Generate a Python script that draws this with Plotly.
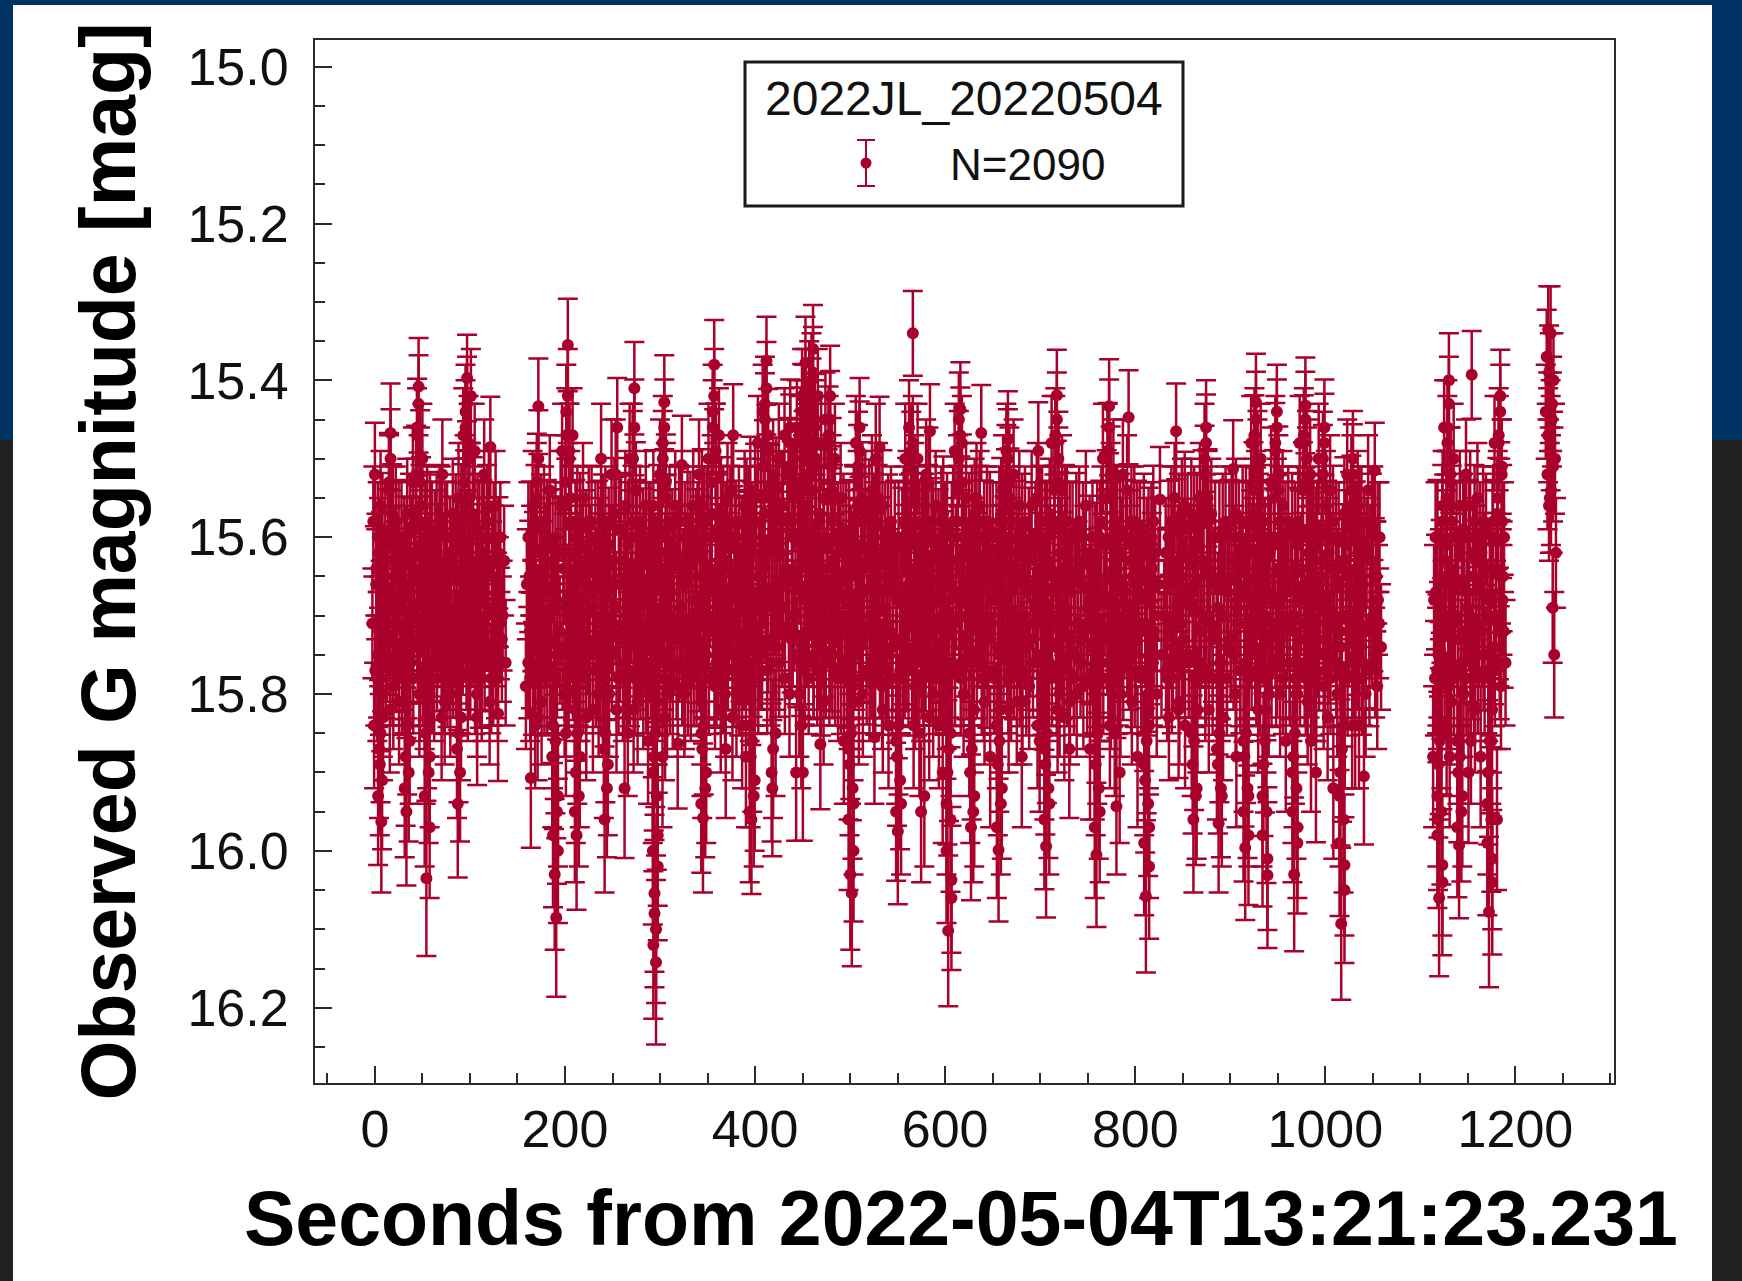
import plotly.graph_objects as go

COLUMN_TIMES = [
 0,6,11,16.5,22,28,34,40,46,50,55,60,65,71,76,82,88,93,97,101,105,110,115,121.5,127,132,136,
 161.5,166,172,178,184,190,197,203,208,213,219,225,232,238,242.5,249,255,263.5,268,273,279,285,290,295,300,304.5,310,316,323,329,335,341,346,351,357,362,366.5,371,377,383,389,393,397,403,408,412,419,425,431,437,444,449.5,453,457,461,466,469.5,474,479,484,490,496,
 501,506,510,516,523,527,531,537,543,551,558,562,566,571,575.5,580,584,590,596,600,604,610,616,622,628,633,638,644,650,657,661,666,672,678,684,691,698,702,707,712,717.5,723,728,734,741,748,755,760,766,772.5,777,781,787,793,799,805,812,817,821,826,832,838,843,849,855,862,868,874.5,880,888.5,895,903,909,916.5,922,927,932,936.5,943,949,955,961,968,973,979,984,987.5,993,999,1005,1011,1017.5,1023,1029,1034,1038,1045,1052,1057,
 1116,1120.5,1125,1130,1135,1141.5,1148,1154,1160,1166,1173,1178,1184,1188,
 1234.5,1237,1240,
]

COLUMN_MAGS = [
 [15.52,15.58,15.64,15.71,15.78,15.84],[15.56,15.62,15.69,15.75,15.83,15.89,15.963],[15.60,15.66,15.73,15.80],[15.467,15.54,15.61,15.68,15.76,15.82],[15.58,15.65,15.71,15.79],[15.60,15.67,15.74,15.81],[15.57,15.63,15.70,15.77,15.86,15.95],[15.53,15.62,15.69,15.76],[15.408,15.47,15.53,15.59,15.66,15.73,15.80],[15.50,15.61,15.70,15.78],
 [15.58,15.64,15.71,15.79,15.88,16.035],[15.60,15.66,15.73,15.80],[15.59,15.65,15.72,15.78],[15.52,15.58,15.64,15.70,15.77,15.83],[15.60,15.67,15.74,15.81],[15.57,15.65,15.72,15.80],[15.55,15.62,15.68,15.75,15.83,15.94],[15.47,15.60,15.69,15.77],[15.397,15.44,15.50,15.57,15.64,15.71,15.78],[15.42,15.55,15.66,15.75],
 [15.49,15.58,15.65,15.72,15.83],[15.60,15.67,15.74,15.80],[15.52,15.62,15.70,15.78],[15.485,15.56,15.63,15.70,15.76,15.81],[15.56,15.63,15.69,15.76,15.825],[15.60,15.67,15.73,15.78],[15.63,15.70,15.76],
 [15.60,15.66,15.72,15.79,15.907],[15.56,15.63,15.70,15.78,15.84],[15.433,15.55,15.62,15.68,15.75,15.83],[15.58,15.65,15.72,15.81],[15.54,15.61,15.69,15.77,15.88],[15.60,15.67,15.75,15.84,15.93,16.03,16.085],[15.49,15.56,15.64,15.72,15.80],[15.355,15.44,15.50,15.56,15.62,15.70,15.77,15.85],[15.47,15.58,15.66,15.74,15.82],
 [15.58,15.65,15.72,15.80,15.88,15.98],[15.55,15.63,15.70,15.78],[15.58,15.66,15.74,15.83],[15.60,15.67,15.75,15.82],[15.50,15.62,15.70,15.80],[15.58,15.65,15.72,15.80,15.89,15.96],[15.52,15.63,15.71,15.80],[15.46,15.52,15.59,15.66,15.73,15.82],[15.56,15.63,15.70,15.78,15.85,15.92],[15.50,15.61,15.69,15.77],
 [15.41,15.50,15.60,15.67,15.74,15.82],[15.58,15.66,15.73,15.81],[15.56,15.63,15.71,15.79],[15.60,15.68,15.77,15.86],[15.64,15.72,15.81,15.90,15.98,16.054,16.142],[15.52,15.60,15.69,15.78,15.88],[15.428,15.48,15.55,15.62,15.69,15.76,15.83],[15.58,15.65,15.73,15.80],[15.56,15.64,15.71,15.79,15.863],[15.508,15.58,15.66,15.73,15.80],
 [15.58,15.64,15.72,15.79],[15.56,15.63,15.70,15.78],[15.52,15.60,15.68,15.76,15.85],[15.58,15.65,15.73,15.81,15.90,15.958],[15.50,15.58,15.67,15.75],[15.38,15.44,15.50,15.57,15.64,15.71,15.79],[15.47,15.59,15.68,15.76],[15.58,15.66,15.74,15.82,15.87],[15.55,15.63,15.71,15.80],[15.47,15.54,15.61,15.68,15.75,15.83],
 [15.58,15.65,15.73,15.80],[15.56,15.63,15.72,15.84],[15.58,15.68,15.77,15.88],[15.60,15.68,15.76,15.84,15.91,15.96],[15.48,15.58,15.67,15.76],[15.44,15.55,15.64,15.74],[15.375,15.43,15.49,15.55,15.62,15.69,15.77],[15.52,15.60,15.68,15.76,15.85,15.92],[15.50,15.58,15.66,15.74],[15.47,15.56,15.64,15.72],
 [15.46,15.52,15.58,15.65,15.72,15.80],[15.46,15.53,15.60,15.70,15.80,15.90],[15.42,15.48,15.56,15.64,15.74,15.84,15.90],[15.378,15.44,15.50,15.57,15.66,15.76],[15.41,15.52,15.62,15.72],[15.36,15.40,15.46,15.52,15.59,15.67,15.75],[15.42,15.50,15.58,15.68],[15.48,15.57,15.66,15.74,15.81,15.864],[15.45,15.55,15.64,15.72],[15.42,15.48,15.54,15.61,15.68,15.76],[15.50,15.60,15.67,15.75],[15.55,15.62,15.70,15.78],[15.60,15.68,15.76,15.86],
 [15.63,15.71,15.79,15.87,15.94,16.03,16.054],[15.48,15.58,15.68,15.78],[15.46,15.51,15.58,15.65,15.73,15.81],[15.56,15.64,15.72,15.80],[15.54,15.62,15.70,15.78,15.855],[15.50,15.60,15.68,15.77],[15.485,15.55,15.63,15.71,15.79],[15.60,15.67,15.75,15.82],[15.58,15.66,15.74,15.84],[15.60,15.68,15.77,15.86,15.94,15.975],
 [15.50,15.58,15.67,15.76],[15.46,15.56,15.65,15.74],[15.34,15.49,15.55,15.61,15.68,15.76,15.84],[15.50,15.60,15.69,15.79],[15.60,15.68,15.76,15.85,15.93,15.95],[15.52,15.61,15.70,15.78],[15.465,15.53,15.60,15.67,15.75,15.83],[15.56,15.63,15.71,15.80],[15.58,15.66,15.74,15.84],[15.60,15.70,15.79,15.90],
 [15.68,15.76,15.85,15.94,16.037,16.102],[15.49,15.58,15.67,15.77],[15.437,15.45,15.48,15.54,15.60,15.68,15.76],[15.55,15.62,15.70,15.80],[15.58,15.67,15.76,15.85,15.93,15.97],[15.55,15.63,15.72,15.82],[15.467,15.56,15.63,15.70,15.78],[15.58,15.65,15.73,15.81],[15.60,15.68,15.77,15.88],[15.58,15.66,15.75,15.84,15.92,15.999],
 [15.54,15.63,15.72,15.82],[15.475,15.49,15.53,15.60,15.67,15.75,15.82],[15.52,15.62,15.70,15.78],[15.56,15.64,15.73,15.81,15.88],[15.58,15.66,15.74,15.81],[15.56,15.63,15.71,15.79],[15.49,15.55,15.62,15.69,15.76,15.84],[15.58,15.66,15.75,15.86],[15.60,15.69,15.78,15.87,15.94,15.994],[15.48,15.58,15.67,15.76],
 [15.419,15.47,15.53,15.59,15.66,15.74,15.82],[15.54,15.62,15.71,15.80],[15.58,15.66,15.75,15.83,15.87],[15.60,15.67,15.75,15.81],[15.58,15.65,15.73,15.80],[15.56,15.63,15.71,15.79],[15.60,15.68,15.77,15.87],[15.60,15.69,15.78,15.87,15.95,16.005],[15.50,15.58,15.68,15.78],[15.433,15.49,15.55,15.61,15.68,15.76,15.84],
 [15.52,15.61,15.70,15.79],[15.58,15.67,15.76,15.85,15.90,15.943],[15.52,15.62,15.71,15.80],[15.447,15.54,15.61,15.69,15.77],[15.58,15.65,15.73,15.81],[15.60,15.68,15.77,15.88],[15.62,15.71,15.80,15.89,15.97,16.058],[15.60,15.68,15.76,15.84],[15.62,15.72,15.80],[15.552,15.66,15.75],
 [15.62,15.70,15.78],[15.58,15.66,15.74,15.83],[15.465,15.55,15.63,15.71,15.82],[15.57,15.65,15.73,15.81],[15.59,15.67,15.75,15.84],[15.58,15.67,15.76,15.85,15.92,15.96],[15.55,15.63,15.72,15.82],[15.46,15.50,15.56,15.63,15.70,15.78],[15.57,15.65,15.73,15.82],[15.60,15.69,15.78,15.87,15.93,15.965],
 [15.58,15.66,15.74,15.83],[15.513,15.58,15.65,15.73,15.80],[15.60,15.68,15.77,15.88],[15.58,15.67,15.76,15.86,15.93,15.996],[15.48,15.58,15.68,15.78],[15.428,15.47,15.52,15.58,15.66,15.74],[15.50,15.60,15.70,15.82],[15.62,15.72,15.82,15.93,16.031],[15.53,15.62,15.71,15.80],[15.44,15.48,15.54,15.60,15.68,15.76],
 [15.56,15.64,15.72,15.80],[15.58,15.67,15.76,15.86],[15.60,15.70,15.80,15.90,15.97,16.03],[15.48,15.58,15.68,15.80],[15.432,15.47,15.53,15.60,15.68,15.76],[15.52,15.62,15.71,15.81],[15.60,15.69,15.78,15.86,15.90],[15.50,15.60,15.68,15.78],[15.46,15.50,15.56,15.63,15.71,15.79],[15.54,15.62,15.71,15.83],
 [15.60,15.70,15.80,15.92],[15.64,15.74,15.84,15.93,16.018,16.093],[15.52,15.61,15.72,15.84],[15.50,15.54,15.60,15.67,15.75,15.84],[15.56,15.64,15.74,15.84],[15.58,15.67,15.76,15.84,15.905],[15.54,15.62,15.71,15.80],[15.515,15.58,15.65,15.72,15.79],[15.60,15.68,15.74],
 [15.60,15.68,15.77,15.88,15.96],[15.66,15.75,15.84,15.93,16.018,16.06],[15.46,15.56,15.66,15.75,15.85],[15.40,15.46,15.53,15.61,15.70,15.79,15.88],[15.50,15.60,15.70,15.81],[15.56,15.66,15.76,15.86,15.93,15.993],[15.52,15.60,15.69,15.80,15.90],[15.393,15.56,15.62,15.70,15.78,15.86],[15.55,15.63,15.72,15.82],[15.58,15.67,15.77,15.88],
 [15.68,15.78,15.86,15.94,16.01,16.078],[15.48,15.58,15.70,15.82,15.96],[15.42,15.47,15.52,15.58,15.65,15.72,15.79],[15.60,15.68,15.76],
 [15.335,15.37,15.40,15.44,15.48,15.52,15.56],[15.34,15.39,15.43,15.47,15.51,15.55],[15.40,15.45,15.50,15.54,15.62,15.69,15.75],
]

COLUMN_ERRS = [
 [.066,.07,.07,.07,.08,.08],[.07,.07,.07,.08,.08,.09,.09],[.07,.07,.08,.08],[.063,.07,.07,.07,.08,.08],[.07,.07,.07,.08],[.07,.07,.08,.08],[.07,.07,.07,.08,.08,.094],[.07,.07,.07,.08],[.062,.06,.07,.07,.07,.08,.08],[.07,.07,.07,.08],
 [.07,.07,.07,.08,.09,.099],[.07,.07,.08,.08],[.07,.07,.07,.08],[.07,.07,.07,.07,.08,.08],[.07,.07,.08,.08],[.07,.07,.07,.08],[.07,.07,.07,.08,.08,.094],[.06,.07,.07,.08],[.055,.06,.07,.07,.07,.07,.08],[.06,.07,.07,.08],
 [.06,.07,.07,.07,.086],[.07,.07,.08,.08],[.07,.07,.07,.08],[.064,.07,.07,.07,.08,.08],[.07,.07,.07,.08,.086],[.07,.07,.08,.08],[.07,.07,.08],
 [.07,.07,.07,.08,.089],[.07,.07,.07,.08,.08],[.061,.07,.07,.07,.08,.08],[.07,.07,.07,.08],[.07,.07,.07,.08,.09],[.07,.07,.08,.08,.09,.096,.101],[.06,.07,.07,.07,.08],[.059,.06,.07,.07,.07,.07,.08,.08],[.06,.07,.07,.08,.08],
 [.07,.07,.07,.08,.09,.095],[.07,.07,.07,.08],[.07,.07,.08,.08],[.07,.07,.08,.08],[.07,.07,.07,.08],[.07,.07,.07,.08,.09,.093],[.07,.07,.07,.08],[.063,.07,.07,.07,.08,.08],[.07,.07,.07,.08,.08,.089],[.07,.07,.07,.08],
 [.059,.07,.07,.07,.08,.08],[.07,.07,.08,.08],[.07,.07,.07,.08],[.07,.07,.08,.08],[.07,.08,.08,.09,.09,.10,.105],[.07,.07,.07,.08,.09],[.06,.06,.07,.07,.07,.08,.08],[.07,.07,.08,.08],[.07,.07,.07,.08,.083],[.063,.07,.07,.08,.08],
 [.07,.07,.07,.08],[.07,.07,.07,.08],[.07,.07,.07,.08,.08],[.07,.07,.08,.08,.09,.095],[.07,.07,.07,.08],[.057,.06,.07,.07,.07,.07,.08],[.06,.07,.07,.08],[.07,.07,.08,.08,.088],[.07,.07,.07,.08],[.065,.07,.07,.07,.08,.08],
 [.07,.07,.08,.08],[.07,.07,.07,.08],[.07,.07,.08,.09],[.07,.07,.08,.08,.09,.095],[.06,.07,.07,.08],[.06,.07,.07,.08],[.056,.06,.06,.07,.07,.07,.08],[.07,.07,.07,.08,.08,.087],[.07,.07,.07,.08],[.06,.07,.07,.07],
 [.061,.07,.07,.07,.07,.08],[.06,.07,.07,.07,.08,.087],[.06,.06,.07,.07,.08,.08,.087],[.059,.06,.07,.07,.07,.08],[.06,.07,.07,.07],[.056,.06,.06,.07,.07,.07,.08],[.06,.07,.07,.07],[.06,.07,.07,.08,.08,.083],[.06,.07,.07,.07],[.064,.06,.07,.07,.07,.08],[.07,.07,.07,.08],[.07,.07,.07,.08],[.07,.07,.08,.08],
 [.07,.07,.08,.09,.09,.096,.093],[.06,.07,.07,.08],[.063,.07,.07,.07,.08,.08],[.07,.07,.07,.08],[.07,.07,.07,.08,.085],[.07,.07,.07,.08],[.064,.07,.07,.07,.08],[.07,.07,.08,.08],[.07,.07,.08,.08],[.07,.07,.08,.08,.09,.093],
 [.07,.07,.07,.08],[.06,.07,.07,.08],[.054,.06,.07,.07,.07,.08,.08],[.07,.07,.07,.08],[.07,.07,.08,.08,.09,.09],[.07,.07,.07,.08],[.06,.07,.07,.07,.08,.08],[.07,.07,.07,.08],[.07,.07,.08,.08],[.07,.07,.08,.09],
 [.07,.08,.08,.09,.093,.096],[.06,.07,.07,.08],[.06,.06,.06,.07,.07,.07,.08],[.07,.07,.07,.08],[.07,.07,.08,.08,.09,.093],[.07,.07,.07,.08],[.061,.07,.07,.07,.08],[.07,.07,.08,.08],[.07,.07,.08,.09],[.07,.07,.08,.08,.09,.091],
 [.07,.07,.07,.08],[.061,.06,.07,.07,.07,.08,.08],[.07,.07,.07,.08],[.07,.07,.08,.08,.09],[.07,.07,.08,.08],[.07,.07,.07,.08],[.062,.07,.07,.07,.08,.08],[.07,.07,.08,.09],[.07,.07,.08,.09,.09,.091],[.06,.07,.07,.08],
 [.058,.06,.07,.07,.07,.08,.08],[.07,.07,.07,.08],[.07,.07,.08,.08,.088],[.07,.07,.08,.08],[.07,.07,.08,.08],[.07,.07,.07,.08],[.07,.07,.08,.09],[.07,.07,.08,.09,.09,.092],[.07,.07,.07,.08],[.06,.06,.07,.07,.07,.08,.08],
 [.07,.07,.07,.08],[.07,.07,.08,.08,.09,.087],[.07,.07,.07,.08],[.06,.07,.07,.07,.08],[.07,.07,.08,.08],[.07,.07,.08,.09],[.07,.07,.08,.09,.09,.097],[.07,.07,.08,.08],[.07,.07,.08],[.067,.07,.08],
 [.07,.07,.08],[.07,.07,.08,.08],[.061,.07,.07,.07,.087],[.07,.07,.08,.08],[.07,.07,.08,.08],[.07,.07,.08,.08,.09,.093],[.07,.07,.07,.08],[.06,.07,.07,.07,.07,.08],[.07,.07,.08,.08],[.07,.07,.08,.09,.09,.088],
 [.07,.07,.08,.08],[.062,.07,.07,.08,.08],[.07,.07,.08,.09],[.07,.07,.08,.09,.09,.092],[.06,.07,.07,.08],[.062,.06,.07,.07,.07,.08],[.07,.07,.07,.08],[.07,.07,.08,.09,.093],[.07,.07,.07,.08],[.06,.06,.07,.07,.07,.08],
 [.07,.07,.07,.08],[.07,.07,.08,.09],[.07,.07,.08,.09,.09,.098],[.06,.07,.07,.08],[.061,.06,.07,.07,.07,.08],[.07,.07,.07,.08],[.07,.07,.08,.09,.089],[.07,.07,.07,.08],[.061,.06,.07,.07,.07,.08],[.07,.07,.07,.08],
 [.07,.07,.08,.09],[.07,.08,.08,.09,.09,.097],[.07,.07,.07,.08],[.061,.07,.07,.07,.08,.08],[.07,.07,.08,.08],[.07,.07,.08,.08,.087],[.07,.07,.07,.08],[.061,.07,.07,.07,.08],[.07,.07,.08],
 [.07,.07,.08,.09,.09],[.07,.08,.08,.09,.09,.10],[.06,.07,.07,.08,.08],[.06,.06,.07,.07,.07,.08,.09],[.07,.07,.07,.08],[.07,.07,.08,.08,.09,.093],[.07,.07,.07,.08,.09],[.056,.07,.07,.07,.08,.08],[.07,.07,.07,.08],[.07,.07,.08,.09],
 [.07,.08,.08,.09,.09,.096],[.06,.07,.07,.08,.09],[.059,.06,.07,.07,.07,.07,.08],[.07,.07,.08],
 [.055,.06,.06,.06,.06,.07,.07],[.06,.06,.06,.06,.07,.07],[.06,.06,.07,.07,.07,.07,.08],
]

# Spread of the exposures inside one column, seconds
EXPOSURE_OFFSETS = [0, -1.6, 1.6, -2.6, 2.6, -0.8, 0.8, -2.0, 2.0]

# Points of the dense core between the columns above
CORE_TIMES = [
 3,8,14,19,25,31,37,43,48,53,58,63,68,74,79,85,91,95,99,103,108,113,118,125,130,
 164,169,175,181,187,193,200,206,211,216,222,228,235,240,246,252,259,266,271,276,282,288,293,298,302,307,313,320,326,332,338,344,349,354,360,364,369,374,380,386,391,395,400,406,410,416,422,428,434,441,447,451,455,459,464,468,472,477,482,487,493,499,
 504,508,513,520,525,529,534,540,547,555,560,564,569,573,578,582,587,593,598,602,607,613,619,625,631,636,641,647,654,659,664,669,675,681,688,695,700,705,710,715,720,726,731,738,745,752,758,763,769,775,779,784,790,796,802,809,814,819,
 835,841,846,852,859,865,871,877,884,892,899,906,913,919,925,930,934,940,946,952,958,965,971,976,982,986,990,996,1002,1008,1014,1020,1026,1032,1036,1041,1049,1055,
 1118,1123,1128,1133,1138,1145,1151,1157,1163,1169,1176,1181,1186,
]
CORE_MAGS = [
 [15.60,15.66,15.72,15.77],[15.59,15.64,15.70,15.78],[15.61,15.68,15.73,15.76],[15.58,15.63,15.71,15.77],[15.60,15.65,15.69,15.75],[15.62,15.68,15.72,15.78],[15.59,15.66,15.70,15.76],[15.57,15.64,15.71,15.78],[15.58,15.62,15.68,15.74],[15.60,15.65,15.72,15.77],[15.59,15.66,15.73,15.76],[15.61,15.67,15.70,15.78],[15.58,15.63,15.69,15.75],
 [15.60,15.66,15.72,15.78],[15.62,15.69,15.74,15.77],[15.59,15.64,15.70,15.76],[15.58,15.65,15.71,15.78],[15.56,15.62,15.68,15.73],[15.55,15.61,15.67,15.75],[15.57,15.63,15.70,15.76],[15.59,15.66,15.72,15.78],[15.60,15.68,15.71,15.77],[15.58,15.64,15.69,15.75],[15.60,15.65,15.72,15.78],[15.62,15.67,15.71,15.76],
 [15.60,15.65,15.70,15.76],[15.58,15.64,15.72,15.78],[15.59,15.66,15.71,15.76],[15.60,15.63,15.70,15.78],[15.61,15.67,15.73,15.77],[15.62,15.69,15.74,15.78],[15.56,15.62,15.68,15.75],[15.58,15.64,15.71,15.78],[15.60,15.66,15.72,15.76],[15.59,15.65,15.70,15.77],[15.61,15.68,15.73,15.78],[15.58,15.63,15.69,15.75],[15.60,15.66,15.71,15.77],[15.59,15.64,15.72,15.78],[15.61,15.67,15.70,15.76],[15.57,15.63,15.69,15.75],
 [15.59,15.66,15.72,15.78],[15.60,15.65,15.71,15.76],[15.58,15.64,15.70,15.77],[15.60,15.67,15.73,15.78],[15.61,15.66,15.72,15.76],[15.60,15.68,15.74,15.78],[15.56,15.63,15.70,15.76],[15.58,15.65,15.71,15.77],[15.60,15.66,15.72,15.78],[15.59,15.64,15.70,15.75],[15.61,15.67,15.73,15.78],[15.58,15.63,15.69,15.76],[15.60,15.66,15.71,15.77],[15.59,15.65,15.72,15.78],[15.61,15.68,15.74,15.77],[15.56,15.62,15.69,15.75],[15.58,15.64,15.70,15.76],[15.60,15.66,15.72,15.78],[15.59,15.65,15.71,15.77],[15.57,15.63,15.70,15.76],
 [15.60,15.67,15.73,15.78],[15.58,15.64,15.70,15.75],[15.60,15.66,15.72,15.77],[15.62,15.69,15.74,15.78],[15.57,15.62,15.68,15.75],[15.54,15.61,15.67,15.74],[15.55,15.62,15.69,15.76],[15.58,15.65,15.71,15.78],[15.57,15.63,15.68,15.75],[15.55,15.61,15.67,15.73],[15.54,15.60,15.66,15.74],[15.56,15.62,15.69,15.76],[15.58,15.65,15.72,15.78],[15.55,15.60,15.66,15.73],[15.53,15.60,15.67,15.75],[15.54,15.61,15.68,15.76],[15.56,15.63,15.70,15.77],
 [15.59,15.66,15.72,15.78],[15.60,15.65,15.71,15.76],[15.58,15.64,15.70,15.77],[15.60,15.67,15.73,15.78],[15.61,15.66,15.72,15.76],[15.58,15.63,15.69,15.75],[15.60,15.66,15.71,15.77],[15.59,15.65,15.72,15.78],[15.60,15.68,15.74,15.77],[15.58,15.64,15.70,15.76],[15.56,15.62,15.69,15.75],[15.55,15.61,15.67,15.74],[15.57,15.63,15.70,15.77],[15.59,15.66,15.72,15.76],[15.58,15.64,15.71,15.78],[15.56,15.62,15.69,15.76],[15.59,15.65,15.72,15.77],[15.60,15.67,15.73,15.78],[15.61,15.68,15.74,15.78],[15.57,15.63,15.70,15.76],
 [15.59,15.66,15.71,15.77],[15.58,15.64,15.70,15.75],[15.60,15.67,15.73,15.78],[15.59,15.65,15.72,15.76],[15.58,15.63,15.69,15.75],[15.60,15.66,15.71,15.77],[15.61,15.68,15.74,15.78],[15.57,15.64,15.70,15.76],[15.59,15.65,15.72,15.78],[15.60,15.66,15.71,15.76],[15.58,15.63,15.70,15.77],[15.60,15.67,15.73,15.78],[15.59,15.65,15.71,15.76],[15.57,15.62,15.69,15.75],[15.58,15.64,15.70,15.76],[15.60,15.66,15.72,15.78],[15.59,15.65,15.71,15.77],[15.60,15.68,15.74,15.78],[15.57,15.63,15.69,15.75],[15.56,15.62,15.68,15.74],
 [15.58,15.64,15.71,15.78],[15.60,15.66,15.72,15.76],[15.59,15.65,15.70,15.77],[15.61,15.67,15.73,15.78],[15.60,15.66,15.71,15.76],[15.58,15.64,15.70,15.75],[15.60,15.68,15.74,15.78],[15.57,15.63,15.70,15.76],[15.58,15.65,15.71,15.77],[15.59,15.66,15.72,15.78],[15.58,15.64,15.70,15.76],[15.60,15.67,15.73,15.77],[15.59,15.65,15.71,15.78],[15.60,15.66,15.72,15.76],[15.62,15.69,15.74,15.78],[15.63,15.70,15.75,15.78],[15.60,15.66,15.72,15.77],[15.61,15.68,15.73,15.78],
 [15.60,15.65,15.71,15.76],[15.58,15.64,15.70,15.77],[15.59,15.66,15.72,15.78],[15.60,15.67,15.73,15.76],[15.58,15.63,15.69,15.75],[15.60,15.66,15.71,15.77],[15.59,15.65,15.72,15.78],[15.61,15.68,15.74,15.78],[15.58,15.64,15.70,15.76],[15.60,15.66,15.72,15.77],[15.58,15.63,15.70,15.78],[15.59,15.65,15.71,15.76],[15.56,15.62,15.68,15.75],[15.57,15.63,15.69,15.76],[15.59,15.66,15.72,15.78],[15.56,15.63,15.70,15.76],[15.58,15.64,15.71,15.77],[15.60,15.66,15.72,15.78],[15.59,15.65,15.70,15.76],[15.60,15.67,15.73,15.78],[15.57,15.63,15.69,15.75],[15.58,15.64,15.71,15.77],[15.60,15.66,15.72,15.76],[15.57,15.62,15.68,15.75],[15.59,15.65,15.71,15.77],[15.58,15.63,15.70,15.78],[15.60,15.67,15.73,15.78],[15.61,15.68,15.72,15.77],[15.58,15.64,15.70,15.76],[15.60,15.66,15.71,15.78],[15.59,15.65,15.72,15.76],[15.61,15.67,15.73,15.78],
 [15.59,15.64,15.71,15.77],[15.60,15.66,15.70,15.78],[15.58,15.63,15.72,15.76],[15.61,15.67,15.73,15.78],[15.59,15.65,15.69,15.75],[15.60,15.68,15.74,15.77],[15.58,15.64,15.71,15.78],[15.60,15.66,15.72,15.76],[15.57,15.63,15.70,15.77],[15.59,15.65,15.71,15.78],[15.60,15.67,15.73,15.76],[15.58,15.64,15.69,15.75],[15.61,15.66,15.72,15.78],[15.59,15.63,15.70,15.77],[15.60,15.65,15.71,15.76],
 [15.60,15.67,15.73,15.78],[15.58,15.65,15.72,15.78],[15.56,15.63,15.70,15.77],[15.58,15.64,15.71,15.76],[15.60,15.66,15.73,15.78],[15.59,15.66,15.72,15.77],[15.60,15.67,15.74,15.78],[15.58,15.65,15.71,15.76],[15.60,15.66,15.72,15.78],[15.59,15.64,15.70,15.75],[15.60,15.68,15.74,15.78],[15.57,15.64,15.71,15.77],[15.58,15.65,15.72,15.76],
]
CORE_ERRS = [
 .070,.072,.071,.070,.073,.072,.071,.070,.072,.071,.073,.070,.072,
 .071,.072,.070,.073,.071,.070,.072,.071,.073,.072,.070,.071,
 .071,.072,.070,.073,.071,.072,.070,.071,.073,.072,.070,.071,.072,.070,.073,.071,
 .072,.070,.071,.073,.072,.070,.071,.072,.073,.070,.071,.072,.070,.073,.071,.072,.070,.071,.073,.072,
 .070,.071,.072,.073,.070,.068,.069,.071,.069,.068,.067,.069,.071,.068,.067,.068,.069,
 .071,.072,.070,.073,.071,.072,.070,.071,.073,.072,.070,.071,.069,.071,.072,.071,.070,.072,.073,.071,
 .072,.070,.073,.071,.072,.070,.071,.073,.072,.070,.071,.073,.072,.070,.071,.072,.073,.070,.071,.072,
 .070,.072,.071,.073,.070,.071,.072,.070,.071,.073,.072,.071,.072,.070,.073,.074,.072,.071,
 .070,.072,.071,.073,.070,.072,.071,.073,.071,.072,.070,.071,.069,.070,.072,.071,.070,.072,.071,.073,.070,.071,.072,.070,.071,.072,.073,.072,.070,.071,.072,.073,
 .071,.072,.070,.073,.071,.072,.071,.070,.072,.073,.071,.070,.072,.071,.070,
 .073,.072,.070,.071,.072,.071,.073,.072,.070,.071,.073,.071,.072,
]

# Extra exposures inside the bright spikes (small magnitude end)
BRIGHT_TIMES = [16.5,46,97,172,203,273,304.5,357,412,437,449.5,453,461,479,510,566,616,666,717.5,772.5,874.5,927,949,979,999,1029,1130,1184]
BRIGHT_MAGS = [
 [15.50,15.53,15.57],[15.43,15.46,15.50,15.52,15.56],[15.43,15.46,15.48,15.53],[15.50,15.53],[15.42,15.47,15.49,15.53,15.55],[15.46,15.50,15.54],[15.46,15.50,15.53],[15.42,15.46,15.49,15.53],[15.41,15.45,15.47,15.51,15.54],[15.48,15.51,15.54],[15.44,15.47,15.50],[15.42,15.46,15.49,15.53],[15.39,15.43,15.45,15.48,15.51,15.54],[15.45,15.47,15.51,15.55],
 [15.49,15.52],[15.48,15.50,15.53],[15.47,15.50,15.53],[15.50,15.52,15.55],[15.45,15.48,15.50,15.54],[15.46,15.49,15.52,15.55],[15.48,15.52,15.55],[15.45,15.48,15.50,15.54],[15.46,15.49,15.52,15.55],[15.45,15.48,15.50,15.54],[15.48,15.52],[15.52,15.56],[15.43,15.48,15.52,15.55],[15.44,15.48,15.51,15.55],
]
BRIGHT_ERRS = [.063,.062,.060,.062,.060,.061,.061,.060,.059,.062,.061,.060,.058,.062,.063,.060,.061,.063,.060,.061,.062,.061,.061,.061,.063,.064,.060,.060]

# Extra exposures inside the faint spikes (large magnitude end)
FAINT_TIMES = [6,34,55,88,190,213,242.5,295,346,397,419,501,551,604,628,657,707,760,812,862,888.5,916.5,936.5,968,1017.5,1120.5,1141.5,1173]
FAINT_MAGS = [
 [15.85,15.87,15.91,15.93],[15.84,15.88,15.90,15.92],[15.83,15.85,15.90,15.93,15.97],[15.85,15.87,15.90],[15.86,15.88,15.95,15.98,16.00],[15.85,15.90,15.93,15.95],[15.85,15.87,15.92],[15.85,15.88,15.93,16.00,16.02,16.08,16.10,16.12],[15.84,15.87,15.92,15.94],[15.86,15.88,15.93,15.95],[15.87,15.90],[15.85,15.89,15.92,15.96,16.00],[15.84,15.88,15.91,15.95],[15.87,15.90,15.96,16.00,16.06],
 [15.87,15.90,15.95],[15.86,15.89,15.94,15.97],[15.85,15.89,15.92,15.96],[15.85,15.89,15.92,15.97],[15.86,15.91,15.94,15.99,16.02],[15.86,15.89,15.93],[15.85,15.89,15.92],[15.85,15.88,15.92,15.95,15.98],[15.86,15.89,15.95,15.98,16.01],[15.85,15.88,15.92,15.95,15.99],[15.87,15.90,15.96,15.99,16.05],[15.86,15.89,15.95,15.98,16.04],[15.88,15.90,15.95,15.97],[15.86,15.90,15.96,15.99,16.04],
]
FAINT_ERRS = [.088,.088,.090,.088,.092,.090,.088,.094,.088,.090,.088,.090,.088,.092,.090,.090,.089,.090,.092,.088,.088,.089,.091,.090,.093,.093,.089,.092]

X_TICKS = [0, 200, 400, 600, 800, 1000, 1200]
Y_TICKS = [15.0, 15.2, 15.4, 15.6, 15.8, 16.0, 16.2]
X_RANGE = [-63, 1303.7]
Y_RANGE = [16.296, 14.966]
LEGEND_TITLE = "2022JL_20220504"
LEGEND_LABEL = "N=2090"
X_TITLE = "Seconds from 2022-05-04T13:21:23.231"
Y_TITLE = "Observed G magnitude [mag]"

assert len(COLUMN_TIMES) == len(COLUMN_MAGS) == len(COLUMN_ERRS)
assert len(CORE_TIMES) == len(CORE_MAGS) == len(CORE_ERRS)
assert len(BRIGHT_TIMES) == len(BRIGHT_MAGS) == len(BRIGHT_ERRS), (len(BRIGHT_TIMES), len(BRIGHT_MAGS), len(BRIGHT_ERRS))
assert len(FAINT_TIMES) == len(FAINT_MAGS) == len(FAINT_ERRS), (len(FAINT_TIMES), len(FAINT_MAGS), len(FAINT_ERRS))
times, mags, errs = [], [], []
for i, (t, ms, es) in enumerate(zip(COLUMN_TIMES, COLUMN_MAGS, COLUMN_ERRS)):
    assert len(ms) == len(es), (i, t, len(ms), len(es))
    times += [t + EXPOSURE_OFFSETS[k] for k in range(len(ms))]
    mags += ms
    errs += es
for group_t, group_m, group_e in ((CORE_TIMES, CORE_MAGS, CORE_ERRS),
                                  (BRIGHT_TIMES, BRIGHT_MAGS, BRIGHT_ERRS),
                                  (FAINT_TIMES, FAINT_MAGS, FAINT_ERRS)):
    for t, ms, e in zip(group_t, group_m, group_e):
        times += [t + EXPOSURE_OFFSETS[k % len(EXPOSURE_OFFSETS)] for k in range(len(ms))]
        mags += ms
        errs += [e] * len(ms)

W, H = 1742, 1281
L, R, T, B = 315, 1614, 40, 1083
RED = "#AA002C"
INK = "#111111"
AXIS = "#2a2a2a"
FONT = "Liberation Sans"

def px(x):
    return (x - L) / (R - L)

def py(y):
    return (B - y) / (B - T)

fig = go.Figure()
fig.add_trace(go.Scatter(
    x=times, y=mags, mode="markers",
    marker=dict(color=RED, size=12, line=dict(width=0)),
    error_y=dict(type="data", array=errs, visible=True, color=RED, thickness=2.5, width=10),
    hoverinfo="skip", showlegend=False,
))
# Legend key, on a hidden overlay axis pair scaled to the plot area
fig.add_trace(go.Scatter(
    x=[866], y=[163], mode="markers", xaxis="x2", yaxis="y2",
    marker=dict(color=RED, size=11, line=dict(width=0)),
    error_y=dict(type="constant", value=23, visible=True, color=RED, thickness=2, width=9),
    hoverinfo="skip", showlegend=False,
))

def rect(x0, y0, x1, y1, fill, line=None, layer="below"):
    return dict(type="rect", xref="paper", yref="paper", layer=layer,
                x0=px(x0), x1=px(x1), y0=py(y0), y1=py(y1), fillcolor=fill,
                line=dict(width=3 if line else 0, color=line or fill))

shapes = [
    rect(0, 0, W, 440, "#003363"),
    rect(0, 440, W, H, "#212121"),
    rect(13, 5, 1712, H, "#FFFFFF"),
    rect(745, 62, 1183, 206, "rgba(255,255,255,0)", line="#1a1a1a", layer="above"),
]

def note(x, y, text, size, bold=False, angle=0):
    return dict(xref="paper", yref="paper", x=px(x), y=py(y), text=f"<b>{text}</b>" if bold else text,
                showarrow=False, textangle=angle, xanchor="center", yanchor="middle",
                font=dict(family=FONT, size=size, color="#000000" if bold else INK))

annotations = [
    note(964, 99, LEGEND_TITLE, 48),
    note(1027, 164, LEGEND_LABEL, 44),
    note(961, 1218, X_TITLE, 77, bold=True),
    note(107.5, 562, Y_TITLE, 77, bold=True, angle=-90),
]

axis_common = dict(
    showgrid=False, zeroline=False, showline=True, mirror=True,
    linecolor=AXIS, linewidth=2, ticks="inside", ticklen=17, tickwidth=2, tickcolor=AXIS,
    tickfont=dict(family=FONT, size=52, color=INK),
)
fig.update_layout(
    width=W, height=H, autosize=False,
    margin=dict(l=L, r=W - R, t=T, b=H - B, pad=0),
    paper_bgcolor="#212121", plot_bgcolor="rgba(255,255,255,0)",
    showlegend=False,
    shapes=shapes, annotations=annotations,
    xaxis=dict(range=X_RANGE, tickvals=X_TICKS, ticklabelstandoff=0,
               minor=dict(dtick=50, tick0=0, ticks="inside", ticklen=10, tickwidth=2, tickcolor=AXIS, showgrid=False),
               **axis_common),
    yaxis=dict(range=Y_RANGE, tickvals=Y_TICKS, tickformat=".1f", ticklabelstandoff=14,
               minor=dict(dtick=0.05, tick0=15.0, ticks="inside", ticklen=10, tickwidth=2, tickcolor=AXIS, showgrid=False),
               **axis_common),
    xaxis2=dict(range=[L, R], overlaying="x", visible=False, fixedrange=True),
    yaxis2=dict(range=[B, T], overlaying="y", visible=False, fixedrange=True),
)

fig.write_html("out.html", config={"displayModeBar": False},
               post_script="document.body.style.margin='0';document.body.style.overflow='hidden';")
